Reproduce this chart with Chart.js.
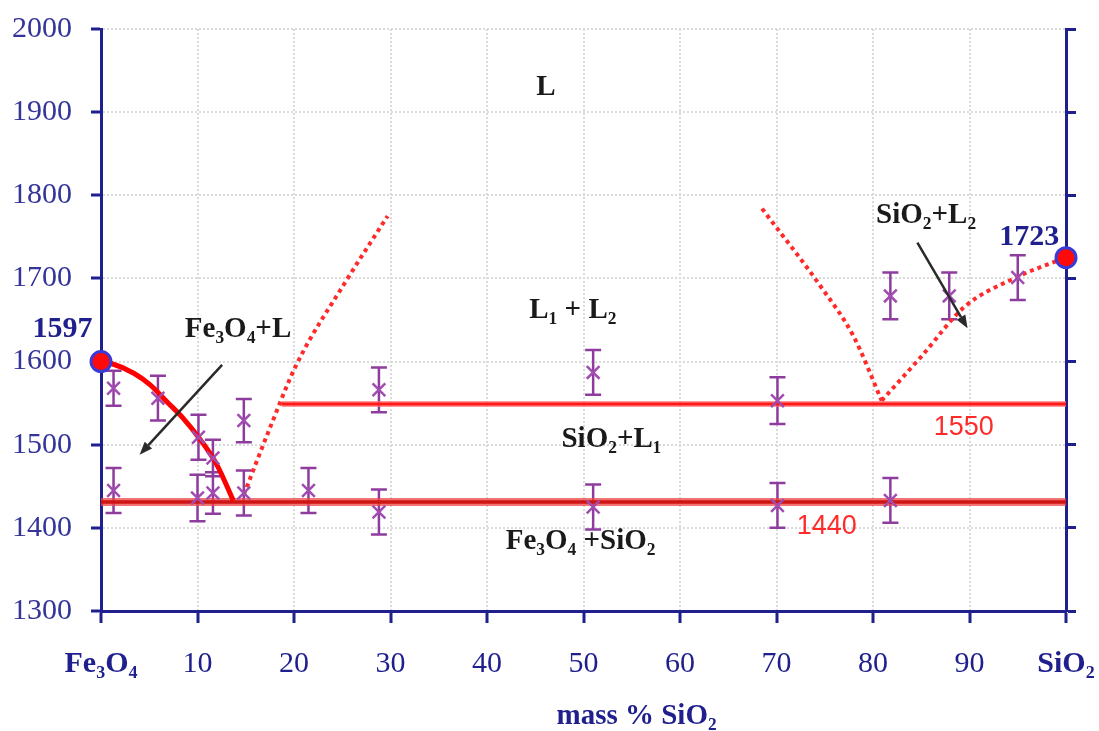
<!DOCTYPE html>
<html><head><meta charset="utf-8">
<script src="https://cdn.jsdelivr.net/npm/chart.js@4.4.0/dist/chart.umd.min.js"></script>
<style>html,body{margin:0;padding:0;background:#fff;} canvas{display:block;}</style>
</head><body>
<canvas id="c" width="1099" height="731"></canvas>
<script>
// ---- data ----
const xTickLabels = ['Fe₃O₄','10','20','30','40','50','60','70','80','90','SiO₂'];
const axisTitle = 'mass % SiO₂';

// liquidus of Fe3O4 (solid red)
const liqFeX = [0, 1, 3.4, 5.1, 6.8, 8.5, 10.3, 12.0, 13.7];
const liqFeT = [1600, 1598, 1586, 1572, 1552, 1532, 1506, 1476, 1433];
// eutectic line (1440)
const eutecticX = [0, 100];
const eutecticT = [1431, 1431];
// monotectic line (1550)
const monotecticX = [18.7, 100];
const monotecticT = [1549, 1549];
// miscibility gap, left branch (dotted)
const gapLeftX = [14.8, 17.5, 20.2, 25.4, 29.7];
const gapLeftT = [1440, 1520, 1595, 1697, 1775];
// miscibility gap, right branch (dotted)
const gapRightX = [68.5, 74.6, 78.0, 80.9];
const gapRightT = [1784, 1690, 1630, 1553];
// SiO2 liquidus (dotted)
const liqSiX = [80.9, 85.0, 89.5, 94.6, 98.8, 100];
const liqSiT = [1553, 1606, 1666, 1700, 1720, 1725];
// melting points of pure components
const meltX = [0, 100];
const meltT = [1600, 1725];
// experimental points with error bars
const expX   = [1.3, 1.3, 5.9, 10.1, 10.0, 11.6, 11.6, 14.8, 14.8, 21.5, 28.8, 28.8, 51, 51, 70.1, 70.1, 81.8, 81.8, 87.9, 95];
const expT   = [1568, 1445, 1556, 1509, 1436, 1484, 1442, 1529, 1442, 1445, 1566, 1419, 1587, 1425, 1553, 1427, 1433, 1679, 1679, 1701];
const expErr = [21, 27, 27, 27, 28, 22, 25, 26, 27, 27, 27, 27, 27, 27, 28, 27, 27, 28, 28, 27];
// text notes
const noteText = ['L', 'L₁ + L₂', 'Fe₃O₄+L', 'SiO₂+L₁', 'Fe₃O₄ +SiO₂', 'SiO₂+L₂', '1597', '1723', '1550', '1440'];
const noteX    = [46.1, 48.9, 14.2, 52.9, 49.7, 85.5, -4.0, 96.2, 89.4, 75.2];
const noteT    = [1930, 1661, 1639, 1506, 1383, 1776, 1639, 1750, 1521, 1402];
const noteKind = ['region','region','region','region','region','region','melt','melt','temp','temp'];
// arrows
const arrowFromX = [12.55, 84.6];
const arrowFromT = [1596, 1743];
const arrowToX   = [4.0, 89.8];
const arrowToT   = [1488, 1640];

// ---- helpers ----
const pts = (xs, ys) => xs.map((x, i) => ({x: x, y: ys[i]}));
const NAVY = '#1f1f8e';
const SERIF = "'Liberation Serif','DejaVu Serif',serif";
const noteStyle = {
  region: {font: 'bold 29px ' + SERIF, color: '#1a1a1a'},
  melt:   {font: 'bold 30px ' + SERIF, color: NAVY},
  temp:   {font: '27px "Liberation Sans", Arial, sans-serif', color: '#ff2b2b'}
};

const overlayPlugin = {
  id: 'overlay',
  beforeDatasetsDraw(chart) {
    const ctx = chart.ctx, xs = chart.scales.x, ys = chart.scales.y;
    ctx.save();
    ctx.strokeStyle = '#8e3c9e';
    ctx.lineWidth = 2.5;
    for (let i = 0; i < expX.length; i++) {
      const px = xs.getPixelForValue(expX[i]);
      const y1 = ys.getPixelForValue(expT[i] + expErr[i]);
      const y2 = ys.getPixelForValue(expT[i] - expErr[i]);
      ctx.beginPath();
      ctx.moveTo(px, y1); ctx.lineTo(px, y2);
      ctx.moveTo(px - 8, y1); ctx.lineTo(px + 8, y1);
      ctx.moveTo(px - 8, y2); ctx.lineTo(px + 8, y2);
      ctx.stroke();
    }
    ctx.restore();
  },
  afterDraw(chart) {
    const ctx = chart.ctx, xs = chart.scales.x, ys = chart.scales.y;
    ctx.save();
    ctx.strokeStyle = '#2a2a2a';
    ctx.fillStyle = '#2a2a2a';
    ctx.lineWidth = 2.5;
    for (let i = 0; i < arrowFromX.length; i++) {
      const x0 = xs.getPixelForValue(arrowFromX[i]), y0 = ys.getPixelForValue(arrowFromT[i]);
      const x1 = xs.getPixelForValue(arrowToX[i]), y1 = ys.getPixelForValue(arrowToT[i]);
      const a = Math.atan2(y1 - y0, x1 - x0);
      const L = 13, W = 5;
      const bx = x1 - L * Math.cos(a), by = y1 - L * Math.sin(a);
      ctx.beginPath(); ctx.moveTo(x0, y0); ctx.lineTo(bx, by); ctx.stroke();
      ctx.beginPath();
      ctx.moveTo(x1, y1);
      ctx.lineTo(bx + W * Math.sin(a), by - W * Math.cos(a));
      ctx.lineTo(bx - W * Math.sin(a), by + W * Math.cos(a));
      ctx.closePath(); ctx.fill();
    }
    ctx.textAlign = 'center';
    ctx.textBaseline = 'middle';
    for (let i = 0; i < noteText.length; i++) {
      const st = noteStyle[noteKind[i]];
      ctx.font = st.font; ctx.fillStyle = st.color;
      ctx.fillText(noteText[i], xs.getPixelForValue(noteX[i]), ys.getPixelForValue(noteT[i]));
    }
    ctx.font = 'bold 29px ' + SERIF;
    ctx.fillStyle = NAVY;
    ctx.fillText(axisTitle, xs.getPixelForValue(55.5), 717);
    ctx.restore();
  }
};

const lineDs = (data, color, width, dash, order, tension) => ({
  type: 'line', data: data, borderColor: color, borderWidth: width, borderDash: dash || [],
  pointRadius: 0, fill: false, showLine: true, order: order, tension: tension || 0,
  cubicInterpolationMode: tension ? 'monotone' : 'default'
});

const noPad = (s) => { s.paddingLeft = 0; s.paddingRight = 0; s.paddingTop = 0; s.paddingBottom = 0; };

new Chart(document.getElementById('c'), {
  type: 'scatter',
  data: {
    datasets: [
      { data: pts(meltX, meltT), pointRadius: 10, pointBackgroundColor: '#ff0a0a',
        pointBorderColor: '#3a3ad8', pointBorderWidth: 3, order: 0, clip: false, showLine: false },
      { data: pts(expX, expT), pointStyle: 'crossRot', pointRadius: 9, pointBorderColor: '#a04cb0',
        pointBorderWidth: 2.5, order: 1, showLine: false },
      lineDs(pts(liqFeX, liqFeT), '#ff0000', 5, null, 2, 0.4),
      lineDs(pts(eutecticX, eutecticT), '#d01515', 3.5, null, 3),
      lineDs(pts(eutecticX, eutecticT), 'rgba(235,70,70,0.75)', 8, null, 4),
      lineDs(pts(monotecticX, monotecticT), '#ff1a1a', 3, null, 3),
      lineDs(pts(monotecticX, monotecticT), 'rgba(255,110,110,0.7)', 6, null, 4),
      lineDs(pts(gapLeftX, gapLeftT), '#ff2a2a', 4, [4, 4], 5, 0.3),
      lineDs(pts(gapRightX, gapRightT), '#ff2a2a', 4, [4, 4], 5, 0.3),
      lineDs(pts(liqSiX, liqSiT), '#ff2a2a', 4, [4, 4], 5, 0.3)
    ]
  },
  options: {
    responsive: false,
    animation: false,
    devicePixelRatio: 1,
    layout: {padding: {top: 29, left: 0, right: 0, bottom: 0}},
    plugins: {legend: {display: false}, tooltip: {enabled: false}},
    scales: {
      x: {
        type: 'linear', min: 0, max: 100,
        border: {color: NAVY, width: 3, dash: [2, 2]},
        grid: {color: '#dadada', lineWidth: 2, tickColor: NAVY, tickWidth: 3, tickLength: 12, tickBorderDash: []},
        ticks: {
          stepSize: 10, maxRotation: 0, autoSkip: false, padding: 23, color: NAVY,
          callback: (v) => xTickLabels[Math.round(v / 10)],
          font: (c) => ({family: SERIF, size: 30, weight: (c.index === 0 || c.index === 10) ? 'bold' : 'normal'})
        },
        afterFit: (s) => { s.height = 120; noPad(s); }
      },
      y: {
        type: 'linear', min: 1300, max: 2000, position: 'left',
        border: {color: NAVY, width: 3, dash: [2, 2]},
        grid: {color: '#dadada', lineWidth: 2, tickColor: NAVY, tickWidth: 3, tickLength: 10, tickBorderDash: []},
        ticks: {stepSize: 100, padding: 19, color: '#34349a', font: {family: SERIF, size: 30},
          callback: (v) => String(v)},
        afterFit: (s) => { s.width = 101; noPad(s); }
      },
      y2: {
        type: 'linear', min: 1300, max: 2000, position: 'right',
        border: {color: NAVY, width: 3},
        grid: {drawOnChartArea: false, tickColor: NAVY, tickWidth: 3, tickLength: 10},
        ticks: {stepSize: 100, display: false},
        afterFit: (s) => { s.width = 33; noPad(s); }
      }
    }
  },
  plugins: [overlayPlugin]
});
</script>
</body></html>
